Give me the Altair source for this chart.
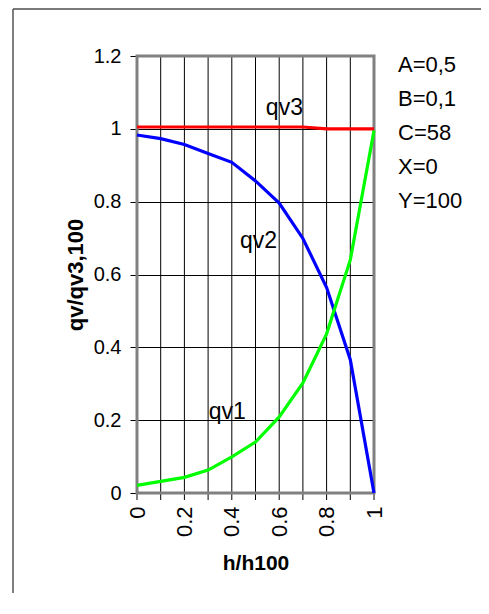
import altair as alt
import pandas as pd

# ---- data ----
h = [0.0, 0.1, 0.2, 0.3, 0.4, 0.5, 0.6, 0.7, 0.8, 0.9, 1.0]
qv1 = [0.021, 0.032, 0.043, 0.063, 0.099, 0.140, 0.209, 0.302, 0.437, 0.640, 0.995]
qv2 = [0.983, 0.973, 0.957, 0.932, 0.908, 0.857, 0.796, 0.699, 0.564, 0.366, 0.0]
qv3 = [1.005, 1.005, 1.005, 1.005, 1.005, 1.005, 1.005, 1.005, 1.0, 1.0, 1.0]

x_minor_ticks = [0.0, 0.1, 0.2, 0.3, 0.4, 0.5, 0.6, 0.7, 0.8, 0.9, 1.0]
x_label_ticks = [0.0, 0.2, 0.4, 0.6, 0.8, 1.0]
y_ticks = [0.0, 0.2, 0.4, 0.6, 0.8, 1.0, 1.2]

series_labels = ["qv1", "qv2", "qv3"]
label_h = [0.381, 0.513, 0.622]
label_q = [0.204, 0.674, 1.038]

params = ["A=0,5", "B=0,1", "C=58", "X=0", "Y=100"]

FONT = "Liberation Sans"
W, H = 237, 437

df = pd.DataFrame({"h": h, "qv1": qv1, "qv2": qv2, "qv3": qv3})
lab_df = pd.DataFrame({"label": series_labels, "h": label_h, "q": label_q})
grid_df = pd.DataFrame({"h": x_minor_ticks})

x_axis = alt.Axis(
    values=x_label_ticks,
    format="~g",
    labelAngle=270,
    labelOverlap=False,
    labelFlush=False,
    labelFontSize=22,
    labelFont=FONT,
    labelColor="black",
    labelPadding=13,
    ticks=False,
    domain=False,
    grid=False,
    title="h/h100",
    titleFont=FONT,
    titleFontSize=21,
    titleFontWeight="bold",
    titleColor="black",
    titleBaseline="alphabetic",
    titleY=76,
)
y_axis = alt.Axis(
    values=y_ticks,
    format="~g",
    labelOverlap=False,
    labelFlush=False,
    labelFontSize=20,
    labelFont=FONT,
    labelColor="black",
    labelPadding=9,
    tickSize=7,
    tickColor="black",
    domain=False,
    grid=True,
    gridColor="black",
    gridWidth=1,
    gridOpacity=1,
    title="qv/qv3,100",
    titleFont=FONT,
    titleFontSize=22,
    titleFontWeight="bold",
    titleColor="black",
    titleAngle=270,
    titleAlign="center",
    titleBaseline="middle",
    titleX=-62,
)

xs = alt.Scale(domain=[0, 1], nice=False, zero=False)
ys = alt.Scale(domain=[0, 1.2], nice=False, zero=False)

base = alt.Chart(df)

axes_layer = base.mark_point(opacity=0).encode(
    x=alt.X("h:Q", scale=xs, axis=x_axis),
    y=alt.Y("qv3:Q", scale=ys, axis=y_axis),
)

vgrid = alt.Chart(grid_df).mark_rule(color="black", strokeWidth=1).encode(
    x=alt.X("h:Q", scale=xs), y=alt.value(0), y2=alt.value(H + 7)
)

one = alt.Data(values=[{"k": 1}])
border = alt.Chart(one).mark_rect(
    fill=None, fillOpacity=0, stroke="#808080", strokeWidth=3
).encode(x=alt.value(0), x2=alt.value(W), y=alt.value(0), y2=alt.value(H))

frame_top = alt.Chart(one).mark_rule(color="#7a7a7a", strokeWidth=2).encode(
    x=alt.value(-124), x2=alt.value(344), y=alt.value(-47)
)
frame_left = alt.Chart(one).mark_rule(color="#555555", strokeWidth=1.5).encode(
    x=alt.value(-124), y=alt.value(-47), y2=alt.value(560)
)


def line(col, color):
    return base.mark_line(color=color, strokeWidth=3.2, clip=False).encode(
        x=alt.X("h:Q", scale=xs),
        y=alt.Y(f"{col}:Q", scale=ys),
    )


labels = alt.Chart(lab_df).mark_text(
    font=FONT, fontSize=23, color="black", align="center", baseline="alphabetic"
).encode(
    x=alt.X("h:Q", scale=xs),
    y=alt.Y("q:Q", scale=ys),
    text="label:N",
)

param_text = alt.Chart(one).mark_text(
    font=FONT, fontSize=22, color="black", align="left", baseline="top", lineHeight=34
).encode(x=alt.value(261), y=alt.value(-1), text=alt.value(params))

chart = alt.layer(
    frame_top, frame_left, axes_layer, vgrid, border,
    line("qv3", "#FF0000"), line("qv2", "#0000FF"), line("qv1", "#00FF00"),
    labels, param_text,
).properties(
    width=W, height=H,
    autosize=alt.AutoSizeParams(type="none"),
    padding={"left": 129, "top": 48, "right": 107, "bottom": 100},
).configure_view(
    stroke=None, fill="white"
).configure(background="white")

chart.save("out.html", embed_options={"renderer": "svg", "actions": False})
